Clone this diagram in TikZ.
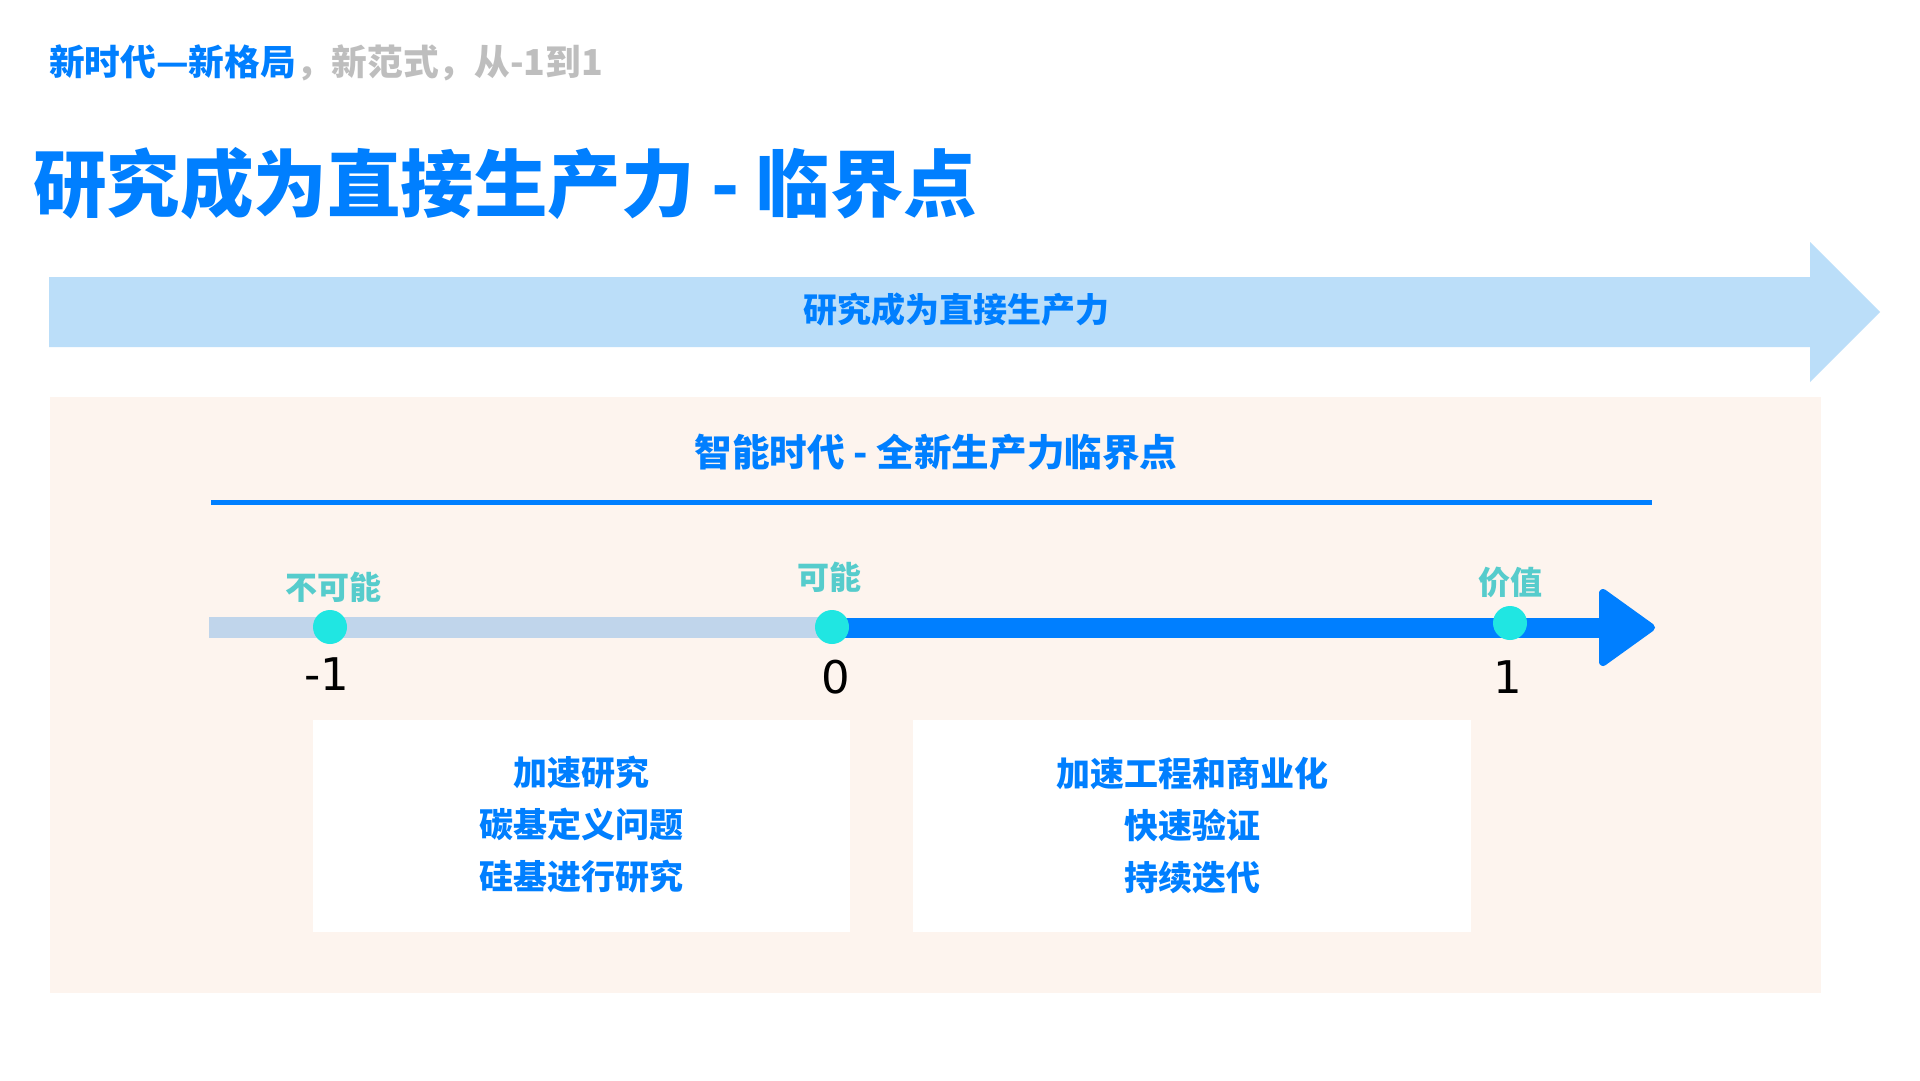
\documentclass[tikz,border=0pt]{standalone}
\usepackage{fontspec}
\setmainfont{Noto Sans CJK SC}
\newfontfamily\numfont{DejaVu Sans}
\definecolor{mainblue}{RGB}{0,127,255}
\definecolor{headgray}{RGB}{190,190,190}
\definecolor{bannerblue}{RGB}{187,222,249}
\definecolor{panelbeige}{RGB}{253,244,238}
\definecolor{bargray}{RGB}{192,213,235}
\definecolor{dotcyan}{RGB}{32,230,226}
\definecolor{labelteal}{RGB}{86,204,204}
\tikzset{
  fs/.style={font=\fontsize{#1}{#1}\selectfont\bfseries},
  txt/.style={inner sep=0pt, text=mainblue},
  dotnode/.style={circle, fill=dotcyan, minimum size=34pt, inner sep=0pt},
  lab/.style={inner sep=0pt, text=labelteal, font=\fontsize{32}{36}\selectfont\bfseries},
  num/.style={inner sep=0pt, text=black, font=\fontsize{45}{52}\numfont},
  card/.style={fill=white, draw=none},
  cardtxt/.style={inner sep=0pt, text=mainblue, align=center, font=\fontsize{34}{52}\selectfont\bfseries}
}
\begin{document}
\begin{tikzpicture}[x=1pt,y=-1pt]
\useasboundingbox[fill=white] (0,0) rectangle (1920,1080);
% header
\node[txt, anchor=west, fs=35.7] (header) at (49,63) {新时代—新格局{\color{headgray}，新范式，从-1到1}};
% title
\node[txt, anchor=west, fs=73.5] (title) at (33,183) {研究成为直接生产力 - 临界点};
% banner arrow
\fill[bannerblue] (49,277) -- (1810,277) -- (1810,242) -- (1880,312) -- (1810,382) -- (1810,347) -- (49,347) -- cycle;
\node[txt, fs=34] (banner) at (956,310) {研究成为直接生产力};
% panel
\fill[panelbeige] (50,397) rectangle (1821,993);
\node[txt, fs=37.6] (ptitle) at (936,452) {智能时代 - 全新生产力临界点};
\coordinate (ulL) at (211,502);
\coordinate (ulR) at (1652,502);
\draw[mainblue, line width=5pt] (ulL) -- (ulR);
% timeline
\coordinate (tlstart) at (209,627.5);
\coordinate (tlmid) at (832,627.5);
\coordinate (headbase) at (1604,627.5);
\draw[bargray, line width=21pt] (tlstart) -- (tlmid);
\draw[mainblue, line width=20pt] (tlmid) -- (headbase);
\filldraw[mainblue, line width=8pt, line join=round] (1603,593) -- (1651,627.5) -- (1603,662) -- cycle;
\node[dotnode] (dm1) at (330,627) {};
\node[dotnode] (d0) at (832,627) {};
\node[dotnode] (d1) at (1510,623) {};
\node[lab] (lm1) at (333,587) {不可能};
\node[lab] (l0) at (829,577) {可能};
\node[lab] (l1) at (1510,582) {价值};
\node[num] (nm1) at (327,674) {-1};
\node[num] (n0) at (836,677) {0};
\node[num] (n1) at (1508,677) {1};
% cards
\fill[card] (313,720) rectangle (850,932);
\fill[card] (913,720) rectangle (1471,932);
\node[cardtxt] (c1) at (581.5,825) {加速研究\\碳基定义问题\\硅基进行研究};
\node[cardtxt] (c2) at (1192,825) {加速工程和商业化\\快速验证\\持续迭代};
\end{tikzpicture}
\end{document}
